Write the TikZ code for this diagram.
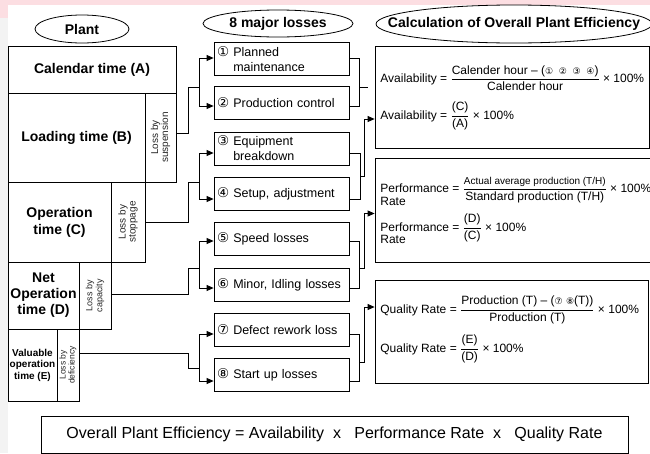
\documentclass[tikz,border=0pt]{standalone}
\usepackage{amsmath}
\usepackage{fontspec}
\setmainfont{Liberation Sans}
\newfontfamily\circfont{DejaVu Sans}
\usetikzlibrary{arrows.meta,calc,shapes.geometric}
\definecolor{pinkband}{RGB}{252,222,226}
\definecolor{edgegrey}{RGB}{243,243,243}
\newcommand{\circnum}[1]{{\circfont\fontsize{13.5}{13.5}\selectfont #1}}
\newcommand{\smallcirc}[1]{{\circfont\fontsize{9}{9}\selectfont #1}}

\begin{document}
\begin{tikzpicture}[x=1pt,y=-1pt,line width=0.8pt,
    heading/.style={draw, ellipse, inner sep=0pt},
    headtext/.style={inner sep=0pt, font=\bfseries\fontsize{14}{16}\selectfont},
    cell/.style={draw, inner sep=0pt, align=center, font=\bfseries\fontsize{14}{16}\selectfont},
    losstext/.style={rotate=90, inner sep=0pt, align=center, text=black!85, font=\fontsize{10}{10}\selectfont},
    lossbox/.style={draw, minimum width=135pt, minimum height=33pt, inner xsep=3pt, text width=129pt, align=left, font=\fontsize{12.5}{15}\selectfont},
    calcbox/.style={draw, inner sep=0pt},
    formula/.style={inner sep=0pt, anchor=west, font=\fontsize{12}{14}\selectfont},
    arr/.style={-{Triangle[length=7pt,width=6pt]}}
  ]
  \useasboundingbox (0,0) rectangle (650,453);
  \fill[pinkband] (0,0) rectangle (650,5);
  \fill[pinkband] (0,0) rectangle (8,18);
  \fill[edgegrey] (0,18) rectangle (8,453);

  % headings
  \node[heading, minimum width=94pt, minimum height=28pt] (plant) at (82,29) {};
  \node[headtext] at (plant) {Plant};
  \node[heading, minimum width=150pt, minimum height=27pt] (losses) at (278,23.5) {};
  \node[headtext] at (losses) {8 major losses};
  \node[heading, minimum width=276pt, minimum height=38pt] (calc) at (514,24) {};
  \node[headtext] at (calc) {Calculation of Overall Plant Efficiency};

  % plant time blocks
  \node[cell, minimum width=168pt, minimum height=47pt] (calendar) at (92,69.5) {Calendar time (A)};
  \node[cell, minimum width=137pt, minimum height=89pt] (loading) at (76.5,137.5) {Loading time (B)};
  \node[cell, minimum width=31pt, minimum height=89pt] (suspension) at (160.5,137.5) {};
  \node[losstext] at (suspension) {Loss by\\suspension};
  \node[cell, minimum width=103pt, minimum height=80pt, font=\bfseries\fontsize{14}{17}\selectfont] (operation) at (59.5,222) {Operation\\time (C)};
  \node[cell, minimum width=34pt, minimum height=80pt] (stoppage) at (128,222) {};
  \node[losstext] at (stoppage) {Loss by\\stoppage};
  \node[cell, minimum width=71pt, minimum height=67pt] (netop) at (43.5,295.5) {Net\\Operation\\time (D)};
  \node[cell, minimum width=32pt, minimum height=67pt] (capacity) at (95,295.5) {};
  \node[losstext, font=\fontsize{9}{10}\selectfont] at (capacity) {Loss by\\capacity};
  \node[cell, minimum width=49pt, minimum height=72pt, font=\bfseries\fontsize{10}{11.5}\selectfont] (valuable) at (32.5,365) {Valuable\\operation\\time (E)};
  \node[cell, minimum width=22pt, minimum height=72pt] (deficiency) at (68,365) {};
  \node[losstext, font=\fontsize{8.5}{9}\selectfont] at (deficiency) {Loss by\\deficiency};

  % 8 major losses
  \node[lossbox] (l1) at (281.5,59) {\circnum{①} Planned\\\hphantom{\circnum{①} }maintenance};
  \node[lossbox] (l2) at (281.5,102.5) {\circnum{②} Production control};
  \node[lossbox] (l3) at (281.5,148.5) {\circnum{③} Equipment\\\hphantom{\circnum{③} }breakdown};
  \node[lossbox] (l4) at (281.5,193.5) {\circnum{④} Setup, adjustment};
  \node[lossbox] (l5) at (281.5,238.5) {\circnum{⑤} Speed losses};
  \node[lossbox] (l6) at (281.5,284.5) {\circnum{⑥} Minor, Idling losses};
  \node[lossbox] (l7) at (281.5,329.5) {\circnum{⑦} Defect rework loss};
  \node[lossbox] (l8) at (281.5,374.5) {\circnum{⑧} Start up losses};

  % calculation boxes
  \node[calcbox, minimum width=274pt, minimum height=102pt] (avail) at (512,97) {};
  \node[calcbox, minimum width=278pt, minimum height=104pt] (perf) at (514,210) {};
  \node[calcbox, minimum width=273pt, minimum height=103pt] (quality) at (511.5,331.5) {};
  \node[calcbox, minimum width=587pt, minimum height=37pt, font=\fontsize{16}{18}\selectfont] (ope) at (334.5,434.5)
    {Overall Plant Efficiency = Availability\ \ x\ \ \ Performance Rate\ \ x\ \ \ Quality Rate};

  \node[formula] (av1) at (380,78) {Availability = $\dfrac{\text{Calender hour – (\smallcirc{①\ \ ②\ \ ③\ \ ④})}}{\text{Calender hour}}$ × 100\%};
  \node[formula] (av2) at (380,116) {Availability = $\dfrac{\text{(C)}}{\text{(A)}}$ × 100\%};
  \node[formula] (pf1) at (380,190) {Performance = $\dfrac{\text{\fontsize{10}{12}\selectfont Actual average production (T/H)}}{\text{Standard production (T/H)}}$ × 100\%};
  \node[formula, anchor=base west] (pf1r) at (380,205) {Rate};
  \node[formula] (pf2) at (380,228) {Performance = $\dfrac{\text{(D)}}{\text{(C)}}$ × 100\%};
  \node[formula, anchor=base west] (pf2r) at (380,243) {Rate};
  \node[formula] (qr1) at (380,310) {Quality Rate = $\dfrac{\text{Production (T) – (\smallcirc{⑦}\ \smallcirc{⑧}(T))}}{\text{Production (T)}}$ × 100\%};
  \node[formula] (qr2) at (380,349) {Quality Rate = $\dfrac{\text{(E)}}{\text{(D)}}$ × 100\%};

  % ports of the loss boxes
  \coordinate (p1) at (281.5,58);
  \coordinate (p2) at (281.5,106);
  \coordinate (p3) at (281.5,153);
  \coordinate (p4) at (281.5,199);
  \coordinate (p5) at (281.5,241);
  \coordinate (p6) at (281.5,288);
  \coordinate (p7) at (281.5,334);
  \coordinate (p8) at (281.5,381);

  % plant -> losses
  \coordinate (j12) at (199,87);
  \coordinate (j34) at (199,182);
  \coordinate (j56) at (199,268);
  \coordinate (j78) at (199,368);
  \draw ([yshift=4.5pt]suspension.east) -- ++(12,0) |- (j12);
  \draw (stoppage.east) -- ++(43,0) |- (j34);
  \draw ([yshift=1.5pt]capacity.east) -- ++(77,0) |- (j56);
  \draw ([yshift=12pt]deficiency.east) -- ++(109,0) |- (j78);
  \draw[arr] (j12) |- (p1 -| l1.west);
  \draw[arr] (j12) |- (p2 -| l2.west);
  \draw[arr] (j34) |- (p3 -| l3.west);
  \draw[arr] (j34) |- (p4 -| l4.west);
  \draw[arr] (j56) |- (p5 -| l5.west);
  \draw[arr] (j56) |- (p6 -| l6.west);
  \draw[arr] (j78) |- (p7 -| l7.west);
  \draw[arr] (j78) |- (p8 -| l8.west);

  % losses -> calculation
  \coordinate (k12) at (359,87);
  \coordinate (k34) at (360,176);
  \coordinate (k56) at (359,268);
  \coordinate (k78) at (359,362);
  \draw (p1 -| l1.east) -- ++(10,0) |- (p2 -| l2.east);
  \draw (k12) -- ++(9,0);
  \draw (p3 -| l3.east) -- ++(11,0) |- (p4 -| l4.east);
  \draw[arr] (k34) -- ++(4,0) |- ([yshift=-22pt]avail.west);
  \draw (p5 -| l5.east) -- ++(10,0) |- (p6 -| l6.east);
  \draw[arr] (k56) -- ++(5,0) |- ([yshift=-3.5pt]perf.west);
  \draw (p7 -| l7.east) -- ++(10,0) |- (p8 -| l8.east);
  \draw[arr] (k78) -- ++(5,0) |- ([yshift=24.5pt]quality.west);
\end{tikzpicture}
\end{document}
